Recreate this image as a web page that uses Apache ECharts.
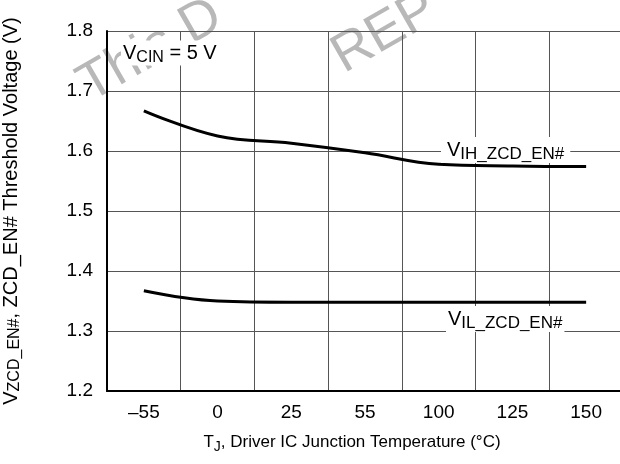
<!DOCTYPE html>
<html>
<head>
<meta charset="utf-8">
<script src="https://cdn.jsdelivr.net/npm/echarts@6/dist/echarts.min.js"></script>
<style>
html,body{margin:0;padding:0;background:#fff;}
#c{width:620px;height:464px;}
</style>
</head>
<body>
<div id="c"></div>
<script>
// Data
var categories = ['\u201355', '0', '25', '55', '100', '125', '150'];
var vihValues = [1.667, 1.625, 1.613, 1.597, 1.578, 1.575, 1.574];
var vilValues = [1.367, 1.350, 1.348, 1.348, 1.348, 1.348, 1.348];
var yTicks = [1.2, 1.3, 1.4, 1.5, 1.6, 1.7, 1.8];

var FONT = '"Liberation Sans", Arial, sans-serif';
var chart = echarts.init(document.getElementById('c'), null, {renderer: 'canvas'});

function richSet(main, sub, lh) {
  lh = lh || 26;
  return {
    m: {fontSize: main, fontFamily: FONT, color: '#000', lineHeight: lh, verticalAlign: 'middle'},
    s: {fontSize: sub, fontFamily: FONT, color: '#000', lineHeight: lh, verticalAlign: 'bottom'}
  };
}

var option = {
  animation: false,
  backgroundColor: '#fff',
  grid: {left: 107, top: 31, width: 516, height: 360, containLabel: false, outerBoundsMode: 'none'},
  xAxis: {
    type: 'category',
    data: categories,
    boundaryGap: true,
    axisLine: {show: true, lineStyle: {color: '#000', width: 2}},
    axisTick: {show: false},
    axisLabel: {color: '#000', fontSize: 19, fontFamily: FONT, margin: 12},
    splitLine: {show: true, lineStyle: {color: '#555', width: 1}},
    name: '{m|T}{s|J}{m|, Driver IC Junction Temperature (\u00B0C)}',
    nameLocation: 'middle',
    nameGap: 39,
    nameTextStyle: {rich: richSet(17, 14, 24), padding: [0, 26, 0, 0]}
  },
  yAxis: {
    type: 'value',
    min: 1.2, max: 1.8, interval: 0.1,
    axisLine: {show: true, lineStyle: {color: '#000', width: 2}},
    axisTick: {show: false},
    axisLabel: {color: '#000', fontSize: 19, fontFamily: FONT, margin: 14,
      formatter: function (v) { return v.toFixed(1); }},
    splitLine: {show: true, lineStyle: {color: '#555', width: 1}},
    name: '{m|V}{s|ZCD_EN#}{m|, ZCD_EN# Threshold Voltage (V)}',
    nameLocation: 'middle',
    nameGap: 84,
    nameRotate: 90,
    nameTextStyle: {rich: richSet(20, 16, 24), padding: [0, 0, 0, 0]}
  },
  series: [
    {type: 'line', data: vihValues, smooth: 0.4, symbol: 'none',
      lineStyle: {color: '#000', width: 3}, z: 5},
    {type: 'line', data: vilValues, smooth: 0.4, symbol: 'none',
      lineStyle: {color: '#000', width: 3}, z: 5}
  ],
  graphic: [
    {type: 'text', x: 96, y: 113, rotation: 0.52, z: -10, silent: true,
      style: {text: 'This D', fontSize: 54, fontFamily: FONT, fill: '#b8b8b8', textAlign: 'left', textVerticalAlign: 'bottom'}},
    {type: 'text', x: 350, y: 84, rotation: 0.52, z: -10, silent: true,
      style: {text: 'REP', fontSize: 54, fontFamily: FONT, fill: '#b8b8b8', textAlign: 'left', textVerticalAlign: 'bottom'}},
    {type: 'text', x: 121, y: 53, z: 20,
      style: {text: '{m|V}{s|CIN}{m| = 5 V}', rich: richSet(20, 16, 25), backgroundColor: '#fff', textVerticalAlign: 'middle', padding: [0, 2]}},
    {type: 'text', x: 441, y: 150, z: 20,
      style: {text: '{m|V}{s|IH_ZCD_EN#}', rich: richSet(20, 17), backgroundColor: '#fff', textVerticalAlign: 'middle', padding: [0, 6]}},
    {type: 'text', x: 446, y: 319, z: 20,
      style: {text: '{m|V}{s|IL_ZCD_EN#}', rich: richSet(20, 17), backgroundColor: '#fff', textVerticalAlign: 'middle', padding: [0, 2]}}
  ]
};
chart.setOption(option);
</script>
</body>
</html>
